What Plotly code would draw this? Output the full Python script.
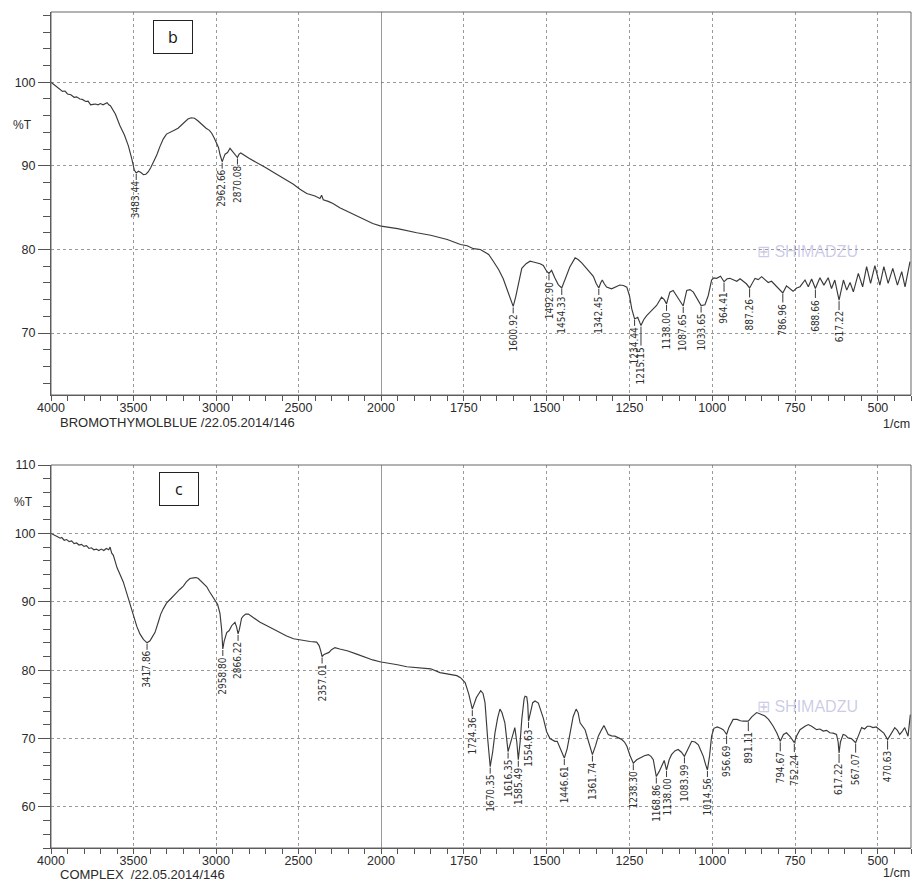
import plotly.graph_objects as go

# ---------------------------------------------------------------- data
# Spectrum b : bromothymol blue  (wavenumber in 1/cm, transmittance in %T)
b_wavenumber = [
    4000, 3975, 3950, 3930, 3915, 3900, 3880, 3860, 3845, 3825, 3810, 3790, 3775,
    3760, 3745, 3730, 3715, 3700, 3685, 3670, 3660, 3650, 3640, 3610, 3582, 3555,
    3531, 3510, 3495, 3483.44, 3470, 3455, 3440, 3425, 3410, 3395, 3375, 3359, 3340,
    3320, 3300, 3275, 3250, 3230, 3210, 3190, 3170, 3150, 3130, 3110, 3090, 3077,
    3060, 3040, 3026, 3010, 2996, 2985, 2975, 2962.66, 2955, 2945, 2930, 2915, 2905,
    2895, 2880, 2870.08, 2860, 2850, 2800, 2753, 2700, 2650, 2600, 2531, 2491, 2450,
    2400, 2370, 2360, 2350, 2320, 2291, 2250, 2200, 2150, 2100, 2050, 2000,
    1950, 1892, 1850, 1800, 1780, 1760, 1740, 1721, 1700, 1691, 1675, 1661, 1645,
    1631, 1615, 1600.92, 1593, 1586, 1575, 1562, 1550, 1540, 1530, 1520, 1510, 1500,
    1492.90, 1485, 1475, 1465, 1454.33, 1445, 1430, 1414, 1405, 1394, 1385, 1379,
    1368, 1359, 1350, 1342.45, 1337, 1332, 1326, 1319, 1304, 1290, 1279, 1268, 1258,
    1250, 1243, 1234.44, 1225, 1215.15, 1207, 1198, 1183, 1168, 1153, 1145, 1138.00,
    1128, 1118, 1106, 1095, 1087.65, 1077, 1067, 1057, 1047, 1040, 1033.65, 1022,
    1012, 1002, 995, 987, 975, 964.41, 955, 947, 936, 926, 916, 906, 897, 887.26,
    880, 871, 861, 851, 841, 831, 821, 811, 803, 786.96, 776, 766, 756, 745, 735,
    720, 710, 700, 688.66, 675, 663, 650, 640, 630, 617.22, 604, 594, 584, 574, 559,
    546, 534, 522, 509, 494, 482, 469, 455, 441, 428, 418, 403,
]
b_transmittance = [
    100.0, 99.6, 99.3, 98.9, 98.95, 98.6, 98.5, 98.2, 98.25, 98.0, 97.95, 97.7, 97.75,
    97.3, 97.35, 97.4, 97.3, 97.45, 97.3, 97.5, 97.55, 97.3, 97.2, 96.2, 94.8, 93.7,
    92.4, 90.8, 89.5, 89.15, 89.35, 89.2, 88.95, 89.0, 89.3, 89.8, 90.6, 91.3, 92.3,
    93.2, 93.8, 94.1, 94.3, 94.5, 94.9, 95.3, 95.6, 95.75, 95.7, 95.4, 95.0, 94.75,
    94.5, 94.25, 93.9, 93.3, 92.7, 92.2, 91.3, 90.5, 90.9, 91.4, 91.6, 92.1, 91.85,
    91.6, 91.3, 91.0, 91.4, 91.55, 90.9, 90.4, 89.8, 89.2, 88.6, 87.8, 87.2, 86.7,
    86.4, 86.1, 86.5, 85.95, 85.75, 85.5, 85.0, 84.5, 84.0, 83.5, 83.1, 82.8,
    82.5, 82.0, 81.7, 81.2, 80.9, 80.6, 80.45, 80.1, 80.0, 79.8, 79.4, 78.6, 77.6,
    76.5, 74.8, 73.2, 74.4, 75.7, 77.75, 78.3, 78.6, 78.5, 78.4, 78.3, 78.1, 77.4,
    77.15, 77.5, 76.6, 75.8, 75.4, 76.3, 77.9, 79.0, 78.8, 78.4, 78.0, 77.8,
    77.3, 76.8, 75.9, 75.4, 76.0, 76.35, 75.9, 75.5, 75.3, 75.5, 75.75, 75.7, 75.5,
    74.5, 72.9, 71.7, 71.9, 70.9, 71.6, 72.1, 72.7, 73.3, 74.3, 74.0, 73.5,
    74.9, 75.1, 74.3, 73.6, 73.25, 75.1, 75.2, 74.9, 74.2, 73.6, 73.3, 73.4,
    74.5, 76.35, 76.6, 76.55, 76.8, 76.15, 76.5, 76.55, 76.4, 76.2, 76.5, 76.15, 75.9, 75.4,
    76.0, 76.55, 76.4, 76.75, 76.4, 76.05, 76.2, 75.75, 75.4, 74.8, 75.65, 75.3, 75.0, 75.4, 75.55,
    76.35, 75.54, 76.47, 75.34, 76.63, 75.74, 76.63, 75.34, 76.35, 73.94, 76.35, 75.14, 76.06, 74.94, 77.15,
    75.54, 77.95, 75.94, 78.07, 75.74, 77.95, 75.94, 77.75, 75.74, 77.35, 75.54, 78.55,
]
b_peaks = [
    3483.44, 2962.66, 2870.08, 1600.92, 1492.90, 1454.33, 1342.45, 1234.44, 1215.15,
    1138.00, 1087.65, 1033.65, 964.41, 887.26, 786.96, 688.66, 617.22,
]

# Spectrum c : complex
c_wavenumber = [
    4000, 3980, 3960, 3945, 3935, 3920, 3905, 3890, 3875, 3860, 3845, 3830, 3815,
    3800, 3785, 3770, 3755, 3740, 3725, 3710, 3695, 3680, 3665, 3650, 3642, 3632,
    3622, 3600, 3580, 3562, 3530, 3501, 3480, 3461, 3440, 3417.86, 3400, 3385, 3370,
    3350, 3335, 3319, 3300, 3280, 3259, 3240, 3220, 3198, 3180, 3158, 3135, 3120,
    3107, 3090, 3070, 3056, 3040, 3020, 3006, 2990, 2976, 2966, 2958.80, 2950, 2935,
    2920, 2905, 2895, 2885, 2875, 2866.22, 2858, 2845, 2835, 2820, 2804, 2780, 2760,
    2733, 2700, 2653, 2610, 2572, 2530, 2471, 2430, 2390, 2375, 2365, 2357.01, 2345,
    2329, 2315, 2300, 2279, 2250, 2200, 2147, 2100, 2050, 2000,
    1986, 1950, 1922, 1880, 1850, 1822, 1800, 1771, 1760, 1746, 1735, 1724.36, 1712,
    1699, 1692, 1686, 1678, 1670.35, 1663, 1656, 1648, 1641, 1635, 1626, 1616.35,
    1610, 1600, 1596, 1590, 1585.49, 1580, 1575, 1568, 1565, 1560, 1557, 1554.63,
    1549, 1542, 1535, 1525, 1510, 1500, 1490, 1475, 1468, 1460, 1446.61, 1438, 1430,
    1420, 1411, 1405, 1399, 1390, 1384, 1378, 1361.74, 1352, 1344, 1335, 1327, 1320,
    1314, 1304, 1294, 1283, 1273, 1265, 1258, 1248, 1238.30, 1228, 1218, 1205, 1193,
    1185, 1178, 1168.86, 1160, 1153, 1145, 1138.00, 1130, 1123, 1113, 1103, 1093,
    1083.99, 1075, 1062, 1052, 1042, 1035, 1027, 1020, 1014.56, 1008, 1002, 995, 985,
    975, 967, 962, 956.69, 950, 937, 925, 915, 906, 898, 891.11, 880, 866, 855, 841,
    830, 816, 805, 794.67, 785, 776, 765, 752.24, 745, 735, 720, 710, 700, 685, 675,
    665, 655, 645, 635, 625, 620, 617.22, 613, 605, 598, 590, 580, 567.07, 558, 549,
    540, 532, 524, 515, 505, 494, 482, 470.63, 460, 449, 441, 434, 427, 419, 409, 402,
]
c_transmittance = [
    100.0, 99.8, 99.5, 99.3, 99.4, 99.0, 99.1, 98.8, 98.9, 98.5, 98.6, 98.3, 98.4,
    98.1, 98.2, 97.8, 97.9, 97.6, 97.7, 97.5, 97.7, 97.5, 97.8, 97.6, 98.0, 97.1,
    96.8, 95.0, 94.0, 92.9, 90.4, 88.0, 86.4, 85.3, 84.5, 84.0, 84.3, 84.9, 85.5,
    87.0, 88.2, 89.0, 89.8, 90.3, 90.9, 91.3, 91.8, 92.3, 92.9, 93.4, 93.5, 93.55,
    93.4, 93.0, 92.6, 92.2, 91.5, 90.8, 90.2, 89.6, 88.3, 86.0, 83.1, 84.3, 85.5,
    85.8, 86.5, 86.8, 87.0, 86.3, 85.3, 86.0, 87.6, 87.9, 88.2, 88.2, 87.8, 87.4,
    87.0, 86.6, 86.0, 85.5, 85.0, 84.6, 84.3, 84.2, 84.1, 83.6, 82.8, 82.0, 82.3,
    82.5, 82.6, 83.0, 83.3, 83.1, 82.8, 82.35, 81.9, 81.5, 81.2,
    81.1, 80.8, 80.5, 80.3, 80.2, 79.65, 79.5, 79.2, 78.9, 78.2, 76.5, 74.3, 76.0,
    77.0, 76.6, 75.25, 70.0, 65.9, 68.0, 70.8, 73.0, 74.3, 73.8, 72.3, 68.1,
    69.2, 71.3, 71.6, 69.5, 66.9, 69.5, 72.8, 75.8, 76.2, 76.1, 75.0, 72.55,
    74.0, 75.25, 75.5, 75.2, 73.0, 71.0, 70.0, 69.6, 69.6, 68.6, 67.15, 68.5, 70.8,
    73.2, 74.3, 73.8, 72.3, 71.6, 71.3, 70.3, 67.65, 69.0, 70.35, 71.2, 71.9, 71.2,
    70.6, 70.4, 70.35, 70.1, 69.85, 69.5, 68.9, 67.5, 66.4, 66.9, 67.15, 67.5, 67.65,
    67.4, 66.9, 64.45, 65.2, 65.9, 66.8, 65.4, 66.9, 67.65, 68.2, 68.4, 68.0,
    67.4, 68.3, 69.6, 69.5, 69.1, 68.3, 67.4, 66.2, 65.4, 67.5, 70.35, 71.5, 71.7,
    71.5, 71.3, 71.0, 70.6, 71.6, 72.8, 72.8, 72.6, 72.55, 72.6, 72.55, 73.2, 73.8, 73.6, 73.3,
    72.8, 71.8, 70.8, 69.6, 70.6, 70.85, 70.3, 69.4, 70.4, 71.3, 71.8, 72.05, 71.8, 71.3, 71.4,
    71.1, 71.2, 70.85, 70.8, 70.6, 69.5, 67.9, 69.5, 70.6, 70.5, 70.1, 70.0, 69.4, 70.5, 71.6,
    71.4, 71.8, 71.8, 71.6, 71.7, 71.3, 70.8, 69.85, 70.8, 71.6, 71.2, 70.6, 71.0, 71.6, 70.35, 73.5,
]
c_peaks = [
    3417.86, 2958.80, 2866.22, 2357.01, 1724.36, 1670.35, 1616.35, 1585.49, 1554.63,
    1446.61, 1361.74, 1238.30, 1168.86, 1138.00, 1083.99, 1014.56, 956.69, 891.11,
    794.67, 752.24, 617.22, 567.07, 470.63,
]

high_ticks = [4000, 3500, 3000, 2500, 2000]
low_ticks = [1750, 1500, 1250, 1000, 750, 500]
b_yticks = [70, 80, 90, 100]
c_yticks = [60, 70, 80, 90, 100, 110]

# ---------------------------------------------------------------- layout
W, H = 913, 881
XL, XS, XR = 51 / W, 381 / W, 911 / W          # left edge, 2000 1/cm break, right edge
B_DOM = [1 - 395 / H, 1 - 12 / H]
C_DOM = [1 - 848 / H, 1 - 465 / H]

INK = "#3a3a3a"
GRID = "#9a9a9a"
AXFONT = dict(family="Liberation Sans, Arial, sans-serif", size=12.5, color="#2a2a2a")
PEAKFONT = dict(family="Liberation Sans Narrow, DejaVu Sans Condensed, Arial Narrow, sans-serif",
                size=10, color="#2e2e2e")

fig = go.Figure()


def split(ws, ts, hi):
    pts = [(w, t) for w, t in zip(ws, ts) if (w >= 2000 if hi else w <= 2000)]
    return [p[0] for p in pts], [p[1] for p in pts]


def add_spectrum(ws, ts, xa_hi, xa_lo, ya):
    for hi, xa in ((True, xa_hi), (False, xa_lo)):
        xs, ys = split(ws, ts, hi)
        fig.add_trace(go.Scatter(x=xs, y=ys, mode="lines", xaxis=xa, yaxis=ya,
                                 line=dict(color=INK, width=1.15), showlegend=False,
                                 hoverinfo="skip"))


def add_peak_labels(ws, ts, peaks, xa_hi, xa_lo, ya):
    lookup = dict(zip(ws, ts))
    prev = None
    for p in peaks:
        t = lookup[p]
        drop = 27
        if prev is not None and abs(prev - p) < 25:
            drop = 40
        prev = p
        fig.add_annotation(
            x=p, y=t, xref=xa_hi if p >= 2000 else xa_lo, yref=ya,
            text=f"{p:.2f}", textangle=-90, font=PEAKFONT,
            showarrow=True, arrowhead=0, arrowwidth=1, arrowcolor=INK,
            ax=0, ay=drop, standoff=1,
        )


add_spectrum(b_wavenumber, b_transmittance, "x", "x2", "y")
add_spectrum(c_wavenumber, c_transmittance, "x3", "x4", "y2")
add_peak_labels(b_wavenumber, b_transmittance, b_peaks, "x", "x2", "y")
add_peak_labels(c_wavenumber, c_transmittance, c_peaks, "x3", "x4", "y2")


def xaxis(domain, rng, ticks, anchor, dminor):
    return dict(domain=domain, range=rng, anchor=anchor, tickmode="array",
                tickvals=ticks, ticktext=[str(t) for t in ticks], automargin=False,
                ticks="outside", ticklen=5, tickcolor="#555", tickfont=AXFONT,
                ticklabelstandoff=-4,
                showline=True, linecolor="#555", linewidth=1,
                showgrid=True, gridcolor=GRID, griddash="dot", gridwidth=1,
                zeroline=False,
                minor=dict(dtick=dminor, tick0=0, ticks="outside", ticklen=5,
                           tickcolor="#555", showgrid=False))


def yaxis(domain, rng, ticks, anchor):
    return dict(domain=domain, range=rng, anchor=anchor, tickmode="array",
                tickvals=ticks, ticktext=[str(t) for t in ticks], automargin=False,
                ticks="outside", ticklen=12, tickcolor="#555", tickfont=AXFONT,
                showline=True, linecolor="#555", linewidth=1,
                showgrid=True, gridcolor=GRID, griddash="dot", gridwidth=1,
                zeroline=False,
                minor=dict(dtick=2, tick0=0, ticks="outside", ticklen=7,
                           tickcolor="#555", showgrid=False))


fig.update_layout(
    width=W, height=H, autosize=False,
    margin=dict(l=0, r=0, t=0, b=0, pad=0),
    paper_bgcolor="white", plot_bgcolor="white",
    showlegend=False,
    xaxis=xaxis([XL, XS], [4000, 2000], high_ticks, "y", 100),
    xaxis2=xaxis([XS, XR], [2000, 400], low_ticks, "y", 50),
    xaxis3=xaxis([XL, XS], [4000, 2000], high_ticks, "y2", 100),
    xaxis4=xaxis([XS, XR], [2000, 400], low_ticks, "y2", 50),
    yaxis=yaxis(B_DOM, [62.6, 108.4], b_yticks, "x"),
    yaxis2=yaxis(C_DOM, [54, 110], c_yticks, "x3"),
)

# frames and the scale-change line at 2000 1/cm
for dom in (B_DOM, C_DOM):
    fig.add_shape(type="rect", xref="paper", yref="paper", x0=XL, x1=XR,
                  y0=dom[0], y1=dom[1], line=dict(color="#666", width=1), layer="above")
for xa, ya in (("x2", "y domain"), ("x4", "y2 domain")):
    fig.add_shape(type="line", xref=xa, yref=ya, x0=2000, x1=2000, y0=0, y1=1,
                  line=dict(color="#555", width=1.2))


# texts around the panels
def note(text, x, y, xanchor="left", size=13, color="#2a2a2a", **kw):
    fig.add_annotation(text=text, x=x, y=y, xref="paper", yref="paper",
                       xanchor=xanchor, yanchor="middle", showarrow=False,
                       borderpad=0,
                       font=dict(family="Liberation Sans, Arial, sans-serif", size=size, color=color),
                       **kw)


note("%T", 22 / W, 1 - 125 / H, xanchor="center", size=12)
note("%T", 23 / W, 1 - 502 / H, xanchor="center", size=12)
note("BROMOTHYMOLBLUE /22.05.2014/146", 59 / W, 1 - 423 / H, size=13)
note("COMPLEX\u00a0\u00a0/22.05.2014/146", 59 / W, 1 - 874 / H, size=13)
note("1/cm", 911 / W, 1 - 424 / H, xanchor="right", size=12.5)
note("1/cm", 911 / W, 1 - 873 / H, xanchor="right", size=12.5)

for lab, cx, cy in (("b", 173, 37), ("c", 178.5, 489)):
    fig.add_annotation(text=lab, x=cx / W, y=1 - cy / H, xref="paper", yref="paper",
                       xanchor="center", yanchor="middle", showarrow=False,
                       width=38, height=32, bgcolor="white", bordercolor="#222",
                       borderwidth=1, borderpad=0,
                       font=dict(family="Open Sans, Liberation Sans, sans-serif", size=16, color="#111"))

# instrument watermark
for cy in (251, 706):
    note("\u229e SHIMADZU", 756 / W, 1 - cy / H, size=16, color="rgba(140,140,205,0.45)")

fig.write_html("out.html")
